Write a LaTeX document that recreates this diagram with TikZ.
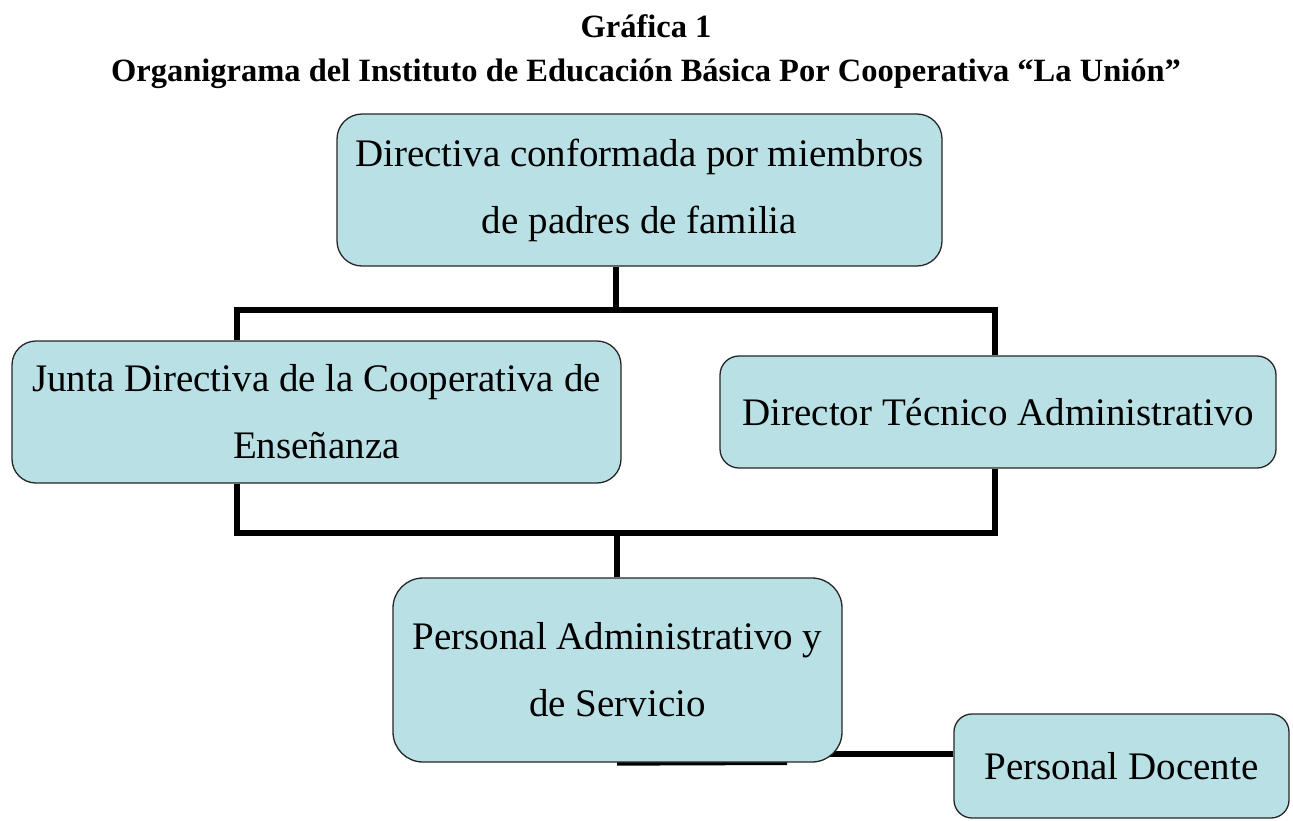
\documentclass[tikz,border=0pt]{standalone}
\usepackage{fontspec}
\setmainfont{Liberation Serif}
\usetikzlibrary{backgrounds}

\definecolor{cajafondo}{RGB}{185,224,228}

\tikzset{
  caja/.style={draw=black!85, line width=1.3pt, fill=cajafondo, align=center,
    inner sep=0pt, font=\fontsize{39}{67}\selectfont},
  enlace/.style={line width=6pt, black},
  titulo/.style={font=\fontsize{32.5}{38}\selectfont\bfseries}
}

\begin{document}
\begin{tikzpicture}[x=1pt,y=-1pt]

\useasboundingbox (0,0) rectangle (1293,820) ;

% titulos
\node[titulo] (grafica) at (646,26) {Gráfica 1} ;
\node[titulo] (organigrama) at (646,74) {Organigrama del Instituto de Educación Básica Por Cooperativa “La Unión”} ;

% cajas
\node[caja, minimum width=605pt, minimum height=152pt, rounded corners=25pt] (directiva) at (639.5,190)
  {Directiva conformada por miembros\\ de padres de familia} ;
\node[caja, minimum width=609pt, minimum height=142pt, rounded corners=24pt] (junta) at (316.5,412)
  {Junta Directiva de la Cooperativa de\\ Enseñanza} ;
\node[caja, minimum width=556pt, minimum height=112pt, rounded corners=19pt] (director) at (998,412)
  {Director Técnico Administrativo} ;
\node[caja, minimum width=449pt, minimum height=184pt, rounded corners=30pt] (admin) at (617.5,670)
  {Personal Administrativo y\\ de Servicio} ;
\node[caja, minimum width=335pt, minimum height=104pt, rounded corners=18pt] (docente) at (1121.5,766)
  {Personal Docente} ;

% puntos de las lineas
\coordinate (bus) at (616,310) ;
\coordinate (jpata) at (237,310) ;
\coordinate (dpata) at (995,310) ;
\coordinate (jpie) at (237,533) ;
\coordinate (dpie) at (995,533) ;
\coordinate (apie) at (617,533) ;
\coordinate (aesq) at (787,762) ;
\coordinate (alado) at (830,754) ;

\begin{scope}[on background layer]
\draw[enlace] (directiva.south -| bus) -- (bus) ;
\draw[enlace] (junta.north -| jpata) -- (jpata) -- (dpata) -- (director.north -| dpata) ;
\draw[enlace] (junta.south -| jpie) -- (jpie) -- (dpie) -- (director.south -| dpie) ;
\draw[enlace] (apie) -- (admin.north -| apie) ;
\draw[enlace] (admin.south -| apie) -- (aesq) ;
\draw[enlace] (alado) -- (alado -| docente.west) ;
\end{scope}

\end{tikzpicture}
\end{document}
